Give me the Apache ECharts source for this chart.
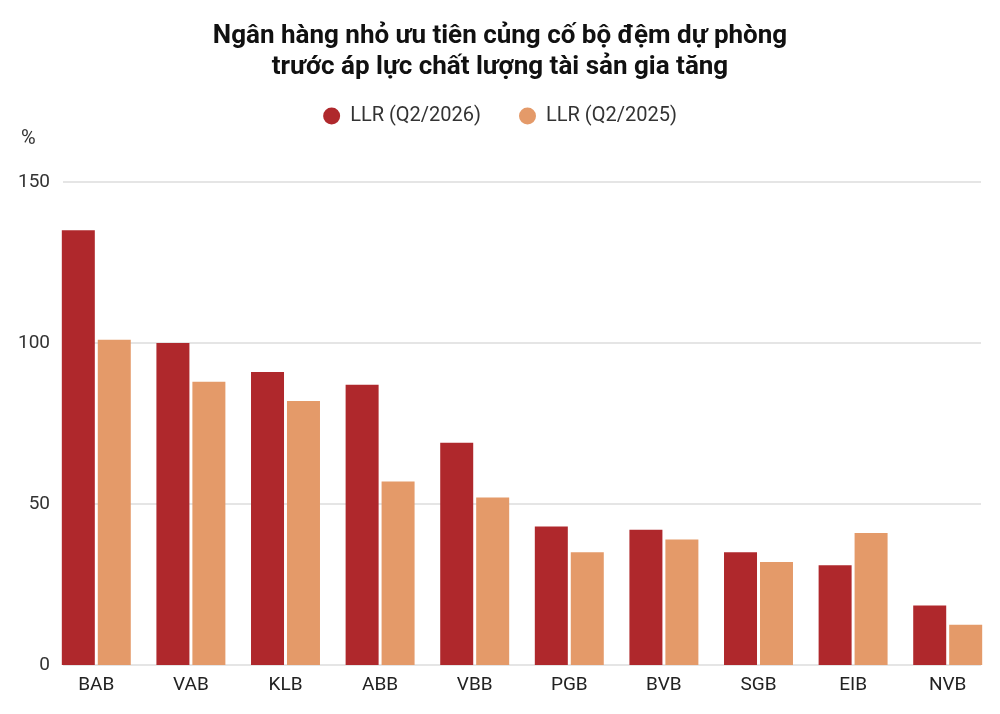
<!doctype html>
<html>
<head>
    <meta charset="utf-8">
    <title>LLR chart</title>
    <script src="https://cdn.jsdelivr.net/npm/echarts@6/dist/echarts.min.js"></script>
    <style>
        html, body { margin: 0; padding: 0; background: #fff; }
    </style>
</head>
<body>
<div id="chart" style="width: 1000px; height: 714px;"></div>
<script type="text/javascript">

    var banks = ['BAB', 'VAB', 'KLB', 'ABB', 'VBB', 'PGB', 'BVB', 'SGB', 'EIB', 'NVB'];
    var llr2026 = [135, 100, 91, 87, 69, 43, 42, 35, 31, 18.5];
    var llr2025 = [101, 88, 82, 57, 52, 35, 39, 32, 41, 12.5];
    var yTicks = [0, 50, 100, 150];

    var chart = echarts.init(document.getElementById('chart'));

    var option = {
        backgroundColor: '#fff',
        animation: false,
        title: [{
            text: 'Ngân hàng nhỏ ưu tiên củng cố bộ đệm dự phòng\ntrước áp lực chất lượng tài sản gia tăng',
            left: 'center',
            top: 16,
            textStyle: {
                fontFamily: 'Roboto',
                fontWeight: 'bold',
                fontSize: 26,
                lineHeight: 31,
                color: '#111'
            }
        }, {
            text: '%',
            left: 16,
            top: 124,
            textStyle: {
                fontFamily: 'Roboto',
                fontWeight: 'normal',
                fontSize: 20,
                color: '#333'
            }
        }],
        legend: {
            top: 101,
            left: 'center',
            icon: 'circle',
            itemWidth: 17,
            itemHeight: 17,
            itemGap: 38,
            textStyle: {
                fontFamily: 'Roboto',
                fontSize: 20,
                color: '#333',
                padding: [0, 0, 0, 5]
            },
            data: ['LLR (Q2/2026)', 'LLR (Q2/2025)']
        },
        grid: [
            // grid 0 only carries the y scale and horizontal lines
            { left: 63, right: 19, top: 182, bottom: 49 },
            // grid 1 holds the bars
            { left: 49, right: 5, top: 182, bottom: 49 }
        ],
        xAxis: [{
            gridIndex: 0,
            type: 'category',
            data: banks,
            show: false
        }, {
            gridIndex: 1,
            type: 'category',
            data: banks,
            axisLine: { show: false },
            axisTick: { show: false },
            axisLabel: {
                margin: 11,
                fontFamily: 'Roboto',
                fontSize: 19,
                color: '#222'
            }
        }],
        yAxis: [{
            gridIndex: 0,
            type: 'value',
            min: 0,
            max: yTicks[yTicks.length - 1],
            interval: 50,
            axisLine: { show: false },
            axisTick: { show: false },
            axisLabel: {
                margin: 13,
                fontFamily: 'Roboto',
                fontSize: 19,
                color: '#333'
            },
            splitLine: { lineStyle: { color: '#dcdcdc', width: 1.5 } }
        }, {
            gridIndex: 1,
            type: 'value',
            min: 0,
            max: yTicks[yTicks.length - 1],
            interval: 50,
            show: false,
            splitLine: { show: false }
        }],
        series: [{
            name: 'LLR (Q2/2026)',
            type: 'bar',
            xAxisIndex: 1,
            yAxisIndex: 1,
            barWidth: 33,
            barGap: '9%',
            itemStyle: { color: '#af282c' },
            data: llr2026
        }, {
            name: 'LLR (Q2/2025)',
            type: 'bar',
            xAxisIndex: 1,
            yAxisIndex: 1,
            barWidth: 33,
            barGap: '9%',
            itemStyle: { color: '#e49a69' },
            data: llr2025
        }]
    };

    chart.setOption(option);

</script>
</body>
</html>
